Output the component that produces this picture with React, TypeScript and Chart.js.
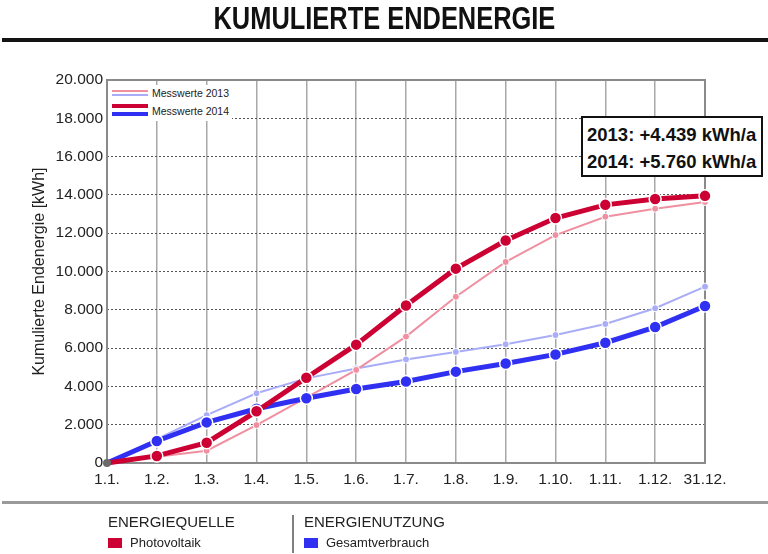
import React, { useEffect, useRef } from "react";
import { Chart, registerables } from "chart.js";

Chart.register(...registerables);

const chartTitle = "KUMULIERTE ENDENERGIE";
const yAxisTitle = "Kumulierte Endenergie [kWh]";
const dateLabels = ["1.1.", "1.2.", "1.3.", "1.4.", "1.5.", "1.6.", "1.7.", "1.8.", "1.9.", "1.10.", "1.11.", "1.12.", "31.12."];
const pv2013 = [0, 330, 640, 1980, 3420, 4860, 6600, 8680, 10500, 11900, 12860, 13280, 13630];
const pv2014 = [0, 370, 1060, 2700, 4450, 6180, 8220, 10150, 11620, 12790, 13480, 13790, 13950];
const use2013 = [0, 1250, 2500, 3640, 4420, 4940, 5410, 5800, 6200, 6680, 7260, 8080, 9210];
const use2014 = [0, 1150, 2120, 2830, 3380, 3860, 4260, 4770, 5200, 5670, 6280, 7100, 8200];
const yMin = 0;
const yMax = 20000;
const yStep = 2000;
const legendLabels = ["Messwerte 2013", "Messwerte 2014"];
const summaryLines = ["2013: +4.439 kWh/a", "2014: +5.760 kWh/a"];
const groupTitles = ["ENERGIEQUELLE", "ENERGIENUTZUNG"];
const groupItems = ["Photovoltaik", "Gesamtverbrauch"];

const RED = "#cc0033";
const PINK = "#ef8fa0";
const BLUE = "#3030f2";
const LIGHTBLUE = "#a9adf7";
const GREY = "#6a6a6a";
const TEXT = "#222222";
const FONT = "'Liberation Sans', Arial, Helvetica, sans-serif";

const fmt = (v: number) => String(v).replace(/\B(?=(\d{3})+(?!\d))/g, ".");

const framePlugin = {
  id: "frame",
  beforeDatasetsDraw(chart: any) {
    const { ctx, chartArea: a } = chart;
    ctx.save();
    ctx.strokeStyle = "#8a8a8a";
    ctx.lineWidth = 2;
    ctx.strokeRect(a.left, a.top, a.right - a.left, a.bottom - a.top);
    ctx.restore();
  },
};

export default function App() {
  const ref = useRef<HTMLCanvasElement | null>(null);

  useEffect(() => {
    if (!ref.current) return;
    const first = (i: number, a: any, b: any) => (i === 0 ? a : b);
    const chart = new Chart(ref.current, {
      type: "line",
      data: {
        labels: dateLabels,
        datasets: [
          {
            label: "PV 2014",
            data: pv2014,
            borderColor: RED,
            backgroundColor: RED,
            borderWidth: 5,
            pointRadius: pv2014.map((_, i) => first(i, 4, 6)),
            pointBackgroundColor: pv2014.map((_, i) => first(i, GREY, RED)),
            pointBorderColor: pv2014.map((_, i) => first(i, GREY, "#ffffff")),
            pointBorderWidth: pv2014.map((_, i) => first(i, 0, 1.5)),
            tension: 0,
            clip: false as any,
          },
          {
            label: "Verbrauch 2014",
            data: use2014,
            borderColor: BLUE,
            backgroundColor: BLUE,
            borderWidth: 5,
            pointRadius: use2014.map((_, i) => first(i, 0, 6)),
            pointBackgroundColor: BLUE,
            pointBorderColor: "#ffffff",
            pointBorderWidth: 1.5,
            tension: 0,
            clip: false as any,
          },
          {
            label: "PV 2013",
            data: pv2013,
            borderColor: PINK,
            backgroundColor: PINK,
            borderWidth: 2,
            pointRadius: pv2013.map((_, i) => first(i, 0, 3.5)),
            pointBackgroundColor: PINK,
            pointBorderColor: "#ffffff",
            pointBorderWidth: 1,
            tension: 0,
            clip: false as any,
          },
          {
            label: "Verbrauch 2013",
            data: use2013,
            borderColor: LIGHTBLUE,
            backgroundColor: LIGHTBLUE,
            borderWidth: 2,
            pointRadius: use2013.map((_, i) => first(i, 0, 3.5)),
            pointBackgroundColor: LIGHTBLUE,
            pointBorderColor: "#ffffff",
            pointBorderWidth: 1,
            tension: 0,
            clip: false as any,
          },
        ],
      },
      options: {
        responsive: false,
        animation: false,
        events: [],
        layout: { padding: { top: 80, right: 63, left: 0, bottom: 0 } },
        plugins: {
          legend: { display: false },
          tooltip: { enabled: false },
          title: { display: false },
        },
        scales: {
          x: {
            type: "category",
            offset: false,
            grid: { color: "#a8a8a8", lineWidth: 1.5, drawTicks: false },
            border: { display: false },
            ticks: {
              color: TEXT,
              font: { family: FONT, size: 15.5 },
              padding: 7,
              maxRotation: 0,
              autoSkip: false,
            },
            afterFit: (scale: any) => {
              scale.height = 91;
            },
          },
          y: {
            min: yMin,
            max: yMax,
            grid: { color: "#555555", lineWidth: 1, drawTicks: false },
            border: { display: false, dash: [2, 2] },
            ticks: {
              stepSize: yStep,
              color: TEXT,
              font: { family: FONT, size: 15.5 },
              padding: 4,
              callback: (v: any) => fmt(Number(v)),
            },
            title: {
              display: true,
              text: yAxisTitle,
              color: TEXT,
              font: { family: FONT, size: 16 },
              padding: { top: 30, bottom: 0 },
            },
            afterFit: (scale: any) => {
              scale.width = 107;
            },
          },
        },
      },
      plugins: [framePlugin],
    });
    return () => chart.destroy();
  }, []);

  const abs = (s: React.CSSProperties): React.CSSProperties => ({ position: "absolute", ...s });

  return (
    <div style={{ position: "absolute", left: 0, top: 0, width: 768, height: 554, background: "#fff", fontFamily: FONT, color: TEXT, overflow: "hidden" }}>
      <canvas ref={ref} width={768} height={554} style={abs({ left: 0, top: 0, width: 768, height: 554 })} />
      <div style={abs({ left: 0, top: -1, width: 768, lineHeight: "40px", textAlign: "center", whiteSpace: "nowrap" })}>
        <span
          style={{
            display: "inline-block",
            transform: "scaleX(0.82)",
            transformOrigin: "50% 50%",
            fontWeight: "bold",
            fontSize: 31,
            color: "#111",
          }}
        >
          {chartTitle}
        </span>
      </div>
      <div style={abs({ left: 2, top: 38, width: 766, height: 4, background: "#141414" })} />
      <div style={abs({ left: 2, top: 501, width: 766, height: 3, background: "#9a9a9a" })} />

      {/* inner legend */}
      <div style={abs({ left: 108, top: 85, width: 124, height: 36, background: "#fff" })} />
      <div style={abs({ left: 112, top: 90, width: 36, height: 2, background: PINK })} />
      <div style={abs({ left: 112, top: 93.5, width: 36, height: 2, background: LIGHTBLUE })} />
      <div style={abs({ left: 112, top: 104, width: 36, height: 4, background: RED })} />
      <div style={abs({ left: 112, top: 111.5, width: 36, height: 4, background: BLUE })} />
      <div style={abs({ left: 152, top: 93 - 7, lineHeight: "14px", fontSize: 10.5, whiteSpace: "nowrap" })}>{legendLabels[0]}</div>
      <div style={abs({ left: 152, top: 111 - 7, lineHeight: "14px", fontSize: 10.5, whiteSpace: "nowrap" })}>{legendLabels[1]}</div>

      {/* summary box */}
      <div
        style={abs({
          left: 581,
          top: 116,
          width: 182,
          height: 61,
          boxSizing: "border-box",
          border: "2px solid #111",
          background: "#fff",
          paddingLeft: 4,
          paddingTop: 4,
          fontWeight: "bold",
          fontSize: 18.5,
          lineHeight: "26.5px",
          color: "#111",
          whiteSpace: "nowrap",
        })}
      >
        <div>{summaryLines[0]}</div>
        <div>{summaryLines[1]}</div>
      </div>

      {/* bottom legend */}
      <div style={abs({ left: 108, top: 522 - 9, lineHeight: "18px", fontSize: 15, whiteSpace: "nowrap" })}>{groupTitles[0]}</div>
      <div style={abs({ left: 108, top: 538, width: 14, height: 10, background: RED })} />
      <div style={abs({ left: 130, top: 543 - 8, lineHeight: "16px", fontSize: 13, whiteSpace: "nowrap" })}>{groupItems[0]}</div>
      <div style={abs({ left: 292, top: 515, width: 2, height: 38, background: "#808080" })} />
      <div style={abs({ left: 304, top: 522 - 9, lineHeight: "18px", fontSize: 15, whiteSpace: "nowrap" })}>{groupTitles[1]}</div>
      <div style={abs({ left: 304, top: 538, width: 14, height: 10, background: BLUE })} />
      <div style={abs({ left: 326, top: 543 - 8, lineHeight: "16px", fontSize: 13, whiteSpace: "nowrap" })}>{groupItems[1]}</div>
    </div>
  );
}
